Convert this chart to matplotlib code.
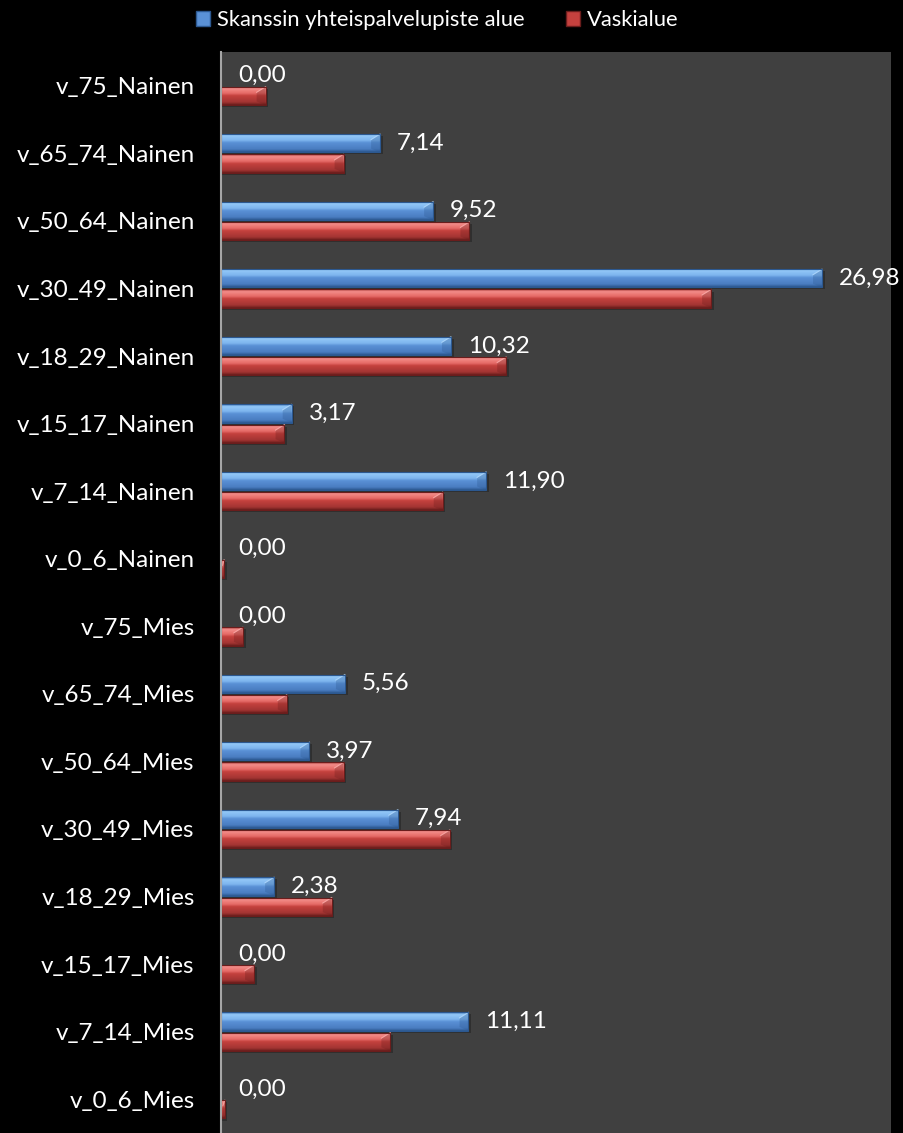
import numpy as np
import matplotlib
matplotlib.use("Agg")
import matplotlib.pyplot as plt
from matplotlib.colors import LinearSegmentedColormap
from matplotlib.patches import Rectangle

categories = [
    "v_75_Nainen", "v_65_74_Nainen", "v_50_64_Nainen", "v_30_49_Nainen",
    "v_18_29_Nainen", "v_15_17_Nainen", "v_7_14_Nainen", "v_0_6_Nainen",
    "v_75_Mies", "v_65_74_Mies", "v_50_64_Mies", "v_30_49_Mies",
    "v_18_29_Mies", "v_15_17_Mies", "v_7_14_Mies", "v_0_6_Mies",
]
skanssi = [0.00, 7.14, 9.52, 26.98, 10.32, 3.17, 11.90, 0.00,
           0.00, 5.56, 3.97, 7.94, 2.38, 0.00, 11.11, 0.00]
vaski = [2.0, 5.5, 11.15, 22.0, 12.8, 2.85, 9.95, 0.14,
         0.98, 2.95, 5.5, 10.27, 4.97, 1.48, 7.6, 0.17]
series_names = ["Skanssin yhteispalvelupiste alue", "Vaskialue"]

plt.rcParams["font.family"] = ["Lato", "DejaVu Sans"]

blue_cmap = LinearSegmentedColormap.from_list("b", [
    (0.0, "#3f72b3"), (0.12, "#93c8f8"), (0.38, "#7db4ee"),
    (0.5, "#5a91d6"), (0.85, "#4a7dc1"), (1.0, "#2c5890")])
red_cmap = LinearSegmentedColormap.from_list("r", [
    (0.0, "#a83a38"), (0.12, "#f38d8a"), (0.38, "#e56a66"),
    (0.5, "#c5413e"), (0.85, "#a33533"), (1.0, "#6a1d1c")])

fig = plt.figure(figsize=(9.04, 11.33), dpi=100, facecolor="black")
ax = fig.add_axes([221 / 904, 0, 670 / 904, 1081 / 1133])
ax.set_facecolor("#404040")

y = np.arange(len(categories))
h = 0.27
grad = np.linspace(0, 1, 64).reshape(-1, 1)


def shaded_bars(vals, offset, cmap, edge, light):
    bars = ax.barh(y + offset, vals, height=h, color="none", zorder=3)
    for b in bars:
        x0, y0 = b.get_x(), b.get_y()
        w, hh = b.get_width(), b.get_height()
        if w <= 0:
            continue
        # soft shadow
        ax.add_patch(Rectangle((x0, y0 + 0.03), w + 0.12, hh, color="black",
                               alpha=0.25, lw=0, zorder=2))
        im = ax.imshow(grad, cmap=cmap, aspect="auto", zorder=3,
                       extent=[x0, x0 + w, y0 + hh, y0], interpolation="bilinear")
        im.set_clip_path(b)
        # bevelled right end
        bw = min(0.4, w / 2)
        ax.fill([x0 + w - bw, x0 + w, x0 + w, x0 + w - bw],
                [y0 + hh * 0.3, y0, y0 + hh, y0 + hh * 0.8],
                color=edge, alpha=0.3, lw=0, zorder=4)
        ax.plot([x0 + w - bw, x0 + w], [y0 + hh * 0.3, y0], color=light,
                lw=0.8, alpha=0.8, zorder=4)
        ax.add_patch(Rectangle((x0, y0), w, hh, fill=False, ec=edge,
                               lw=0.8, zorder=5))
    return bars


shaded_bars(skanssi, -0.15, blue_cmap, "#2c5890", "#b5dcff")
shaded_bars(vaski, 0.15, red_cmap, "#6a1d1c", "#ffb0ae")

for yi, v in zip(y, skanssi):
    ax.annotate(f"{v:.2f}".replace(".", ","), xy=(v, yi - 0.15),
                xytext=(17, 0), textcoords="offset pixels",
                va="center", ha="left", color="white", fontsize=17.5, zorder=6)

ax.set_xlim(0, 30.08)
ax.set_ylim(len(categories) - 0.5, -0.5)
ax.set_yticks(y)
ax.set_yticklabels(categories, color="white", fontsize=17.5)
ax.tick_params(axis="y", length=0, pad=19)
ax.set_xticks([])
for s in ["top", "right", "bottom"]:
    ax.spines[s].set_visible(False)
ax.spines["left"].set_color("#a6a6a6")
ax.spines["left"].set_linewidth(1.5)
ax.spines["left"].set_zorder(7)

# legend at top
handles = [Rectangle((0, 0), 1, 1, fc="#5a91d6", ec="#2c5890"),
           Rectangle((0, 0), 1, 1, fc="#c5413e", ec="#6a1d1c")]
fig.legend(handles, series_names, loc="center", bbox_to_anchor=(437 / 904, 1 - 20 / 1133),
           ncol=2, frameon=False, fontsize=15.8, labelcolor="white",
           handlelength=0.65, handleheight=0.65, handletextpad=0.3, columnspacing=1.9)

fig.savefig("out.png", dpi=100, facecolor="black")
